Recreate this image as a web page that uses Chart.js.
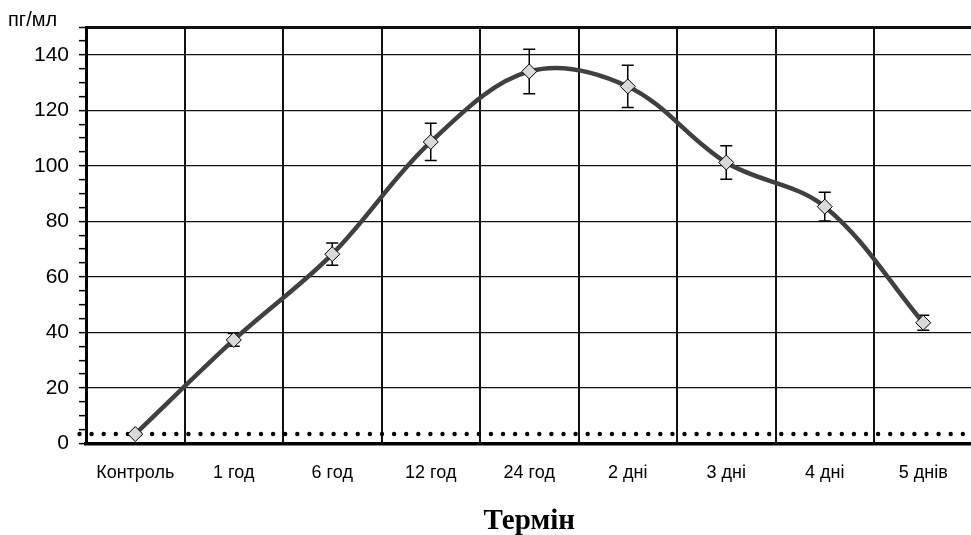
<!DOCTYPE html>
<html>
<head>
<meta charset="utf-8">
<script src="https://cdn.jsdelivr.net/npm/chart.js@4/dist/chart.umd.min.js"></script>
<style>
  html, body { margin: 0; padding: 0; background: #fff; overflow: hidden; }
  #wrap { width: 971px; height: 535px; overflow: hidden; position: relative; }
  canvas { display: block; }
</style>
</head>
<body>
<div id="wrap"><canvas id="c" width="981" height="535"></canvas></div>
<script>
// ---- data ----
const categories = ['Контроль', '1 год', '6 год', '12 год', '24 год', '2 дні', '3 дні', '4 дні', '5 днів'];
const values = [3.4, 37.3, 68.2, 108.6, 134, 128.6, 101.2, 85.3, 43.5];
const errors = [0.5, 2.3, 4, 6.7, 8, 7.6, 6, 5.2, 2.7];
const controlLevel = [3.4];
const yRange = [0, 150];
const yLabelStep = 20;
const yMinorStep = 5;
const yUnit = 'пг/мл';
const xTitle = 'Термін';

const errorBars = {
  id: 'errorBars',
  beforeDatasetsDraw(chart) {
    const ctx = chart.ctx;
    const y = chart.scales.y;
    // dotted control level line
    const py = y.getPixelForValue(controlLevel[0]);
    ctx.save();
    ctx.fillStyle = '#000';
    for (let x = 79.5; x < chart.width + 5; x += 12.1) {
      ctx.beginPath();
      ctx.arc(x, py, 2.2, 0, Math.PI * 2);
      ctx.fill();
    }
    // error bars
    const meta = chart.getDatasetMeta(0);
    ctx.strokeStyle = '#000';
    ctx.lineWidth = 1.5;
    meta.data.forEach((pt, i) => {
      const top = y.getPixelForValue(values[i] + errors[i]);
      const bot = y.getPixelForValue(values[i] - errors[i]);
      const x = pt.x;
      ctx.beginPath();
      ctx.moveTo(x, top); ctx.lineTo(x, bot);
      ctx.moveTo(x - 6, top); ctx.lineTo(x + 6, top);
      ctx.moveTo(x - 6, bot); ctx.lineTo(x + 6, bot);
      ctx.stroke();
    });
    ctx.restore();
  },
  afterDraw(chart) {
    const ctx = chart.ctx;
    ctx.save();
    ctx.fillStyle = '#000';
    ctx.font = '20px "Liberation Sans", Arial, sans-serif';
    ctx.textBaseline = 'alphabetic';
    ctx.textAlign = 'left';
    ctx.fillText(yUnit, 8, 26);
    ctx.restore();
  }
};

new Chart(document.getElementById('c'), {
  type: 'line',
  data: {
    labels: categories,
    datasets: [{
      data: values,
      borderColor: '#404040',
      borderWidth: 4.5,
      tension: 0.35,
      fill: false,
      pointStyle: 'rectRot',
      pointRadius: 7.5,
      pointBackgroundColor: '#d9d9d9',
      pointBorderColor: '#000',
      pointBorderWidth: 1
    }]
  },
  options: {
    responsive: false,
    animation: false,
    devicePixelRatio: 1,
    layout: { padding: { top: 27, right: 0, left: 0, bottom: 0 } },
    plugins: { legend: { display: false }, tooltip: { enabled: false } },
    scales: {
      x: {
        type: 'category',
        offset: true,
        grid: { offset: true, color: '#111', lineWidth: 2, drawTicks: false },
        border: { display: true, color: '#000', width: 3.5 },
        ticks: {
          color: '#000',
          font: { family: '"Liberation Sans", Arial, sans-serif', size: 18 },
          padding: 19,
          maxRotation: 0,
          autoSkip: false
        },
        title: {
          display: true,
          text: xTitle,
          color: '#000',
          font: { family: '"Liberation Serif", "Times New Roman", serif', size: 29, weight: 'bold' },
          padding: { top: 0, bottom: -4 }
        },
        afterFit(s) { s.height = 91.5; }
      },
      y: {
        min: yRange[0],
        max: yRange[1],
        ticks: {
          stepSize: yMinorStep,
          autoSkip: false,
          color: '#000',
          font: { family: '"Liberation Sans", Arial, sans-serif', size: 21 },
          padding: 10,
          callback: v => (v % yLabelStep === 0 ? String(v) : '')
        },
        grid: {
          color: c => (c.tick && (c.tick.value % yLabelStep === 0 || c.tick.value === yRange[1]) ? '#111' : 'rgba(0,0,0,0)'),
          lineWidth: c => (c.tick && c.tick.value === yRange[1] ? 3 : 1.3),
          tickColor: '#000',
          tickWidth: 1.5,
          tickLength: 7
        },
        border: { display: true, color: '#000', width: 3 },
        afterFit(s) { s.width = 86; }
      }
    }
  },
  plugins: [errorBars]
});
</script>
</body>
</html>
